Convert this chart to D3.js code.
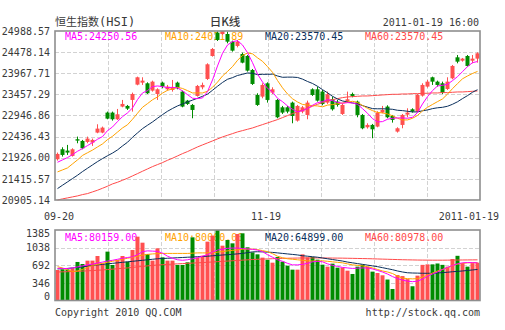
<!DOCTYPE html>
<html><head><meta charset="utf-8">
<script src="https://cdn.jsdelivr.net/npm/d3@7"></script>
<style>
body{margin:0;background:#fff}
svg{display:block}
text{font-family:"DejaVu Sans Mono","Liberation Mono",monospace;font-size:10px}
</style>
</head><body><svg id="c" width="505" height="330"></svg>
<script>
// ---------- data ----------
const dates = [
"2010-09-20","2010-09-21","2010-09-22","2010-09-24","2010-09-27","2010-09-28","2010-09-29","2010-09-30",
"2010-10-04","2010-10-05","2010-10-06","2010-10-07","2010-10-08","2010-10-11","2010-10-12","2010-10-13","2010-10-14","2010-10-15",
"2010-10-18","2010-10-19","2010-10-20","2010-10-21","2010-10-22","2010-10-25","2010-10-26","2010-10-27","2010-10-28","2010-10-29",
"2010-11-01","2010-11-02","2010-11-03","2010-11-04","2010-11-05","2010-11-08","2010-11-09","2010-11-10","2010-11-11","2010-11-12",
"2010-11-15","2010-11-16","2010-11-17","2010-11-18","2010-11-19","2010-11-22","2010-11-23","2010-11-24","2010-11-25","2010-11-26",
"2010-11-29","2010-11-30",
"2010-12-01","2010-12-02","2010-12-03","2010-12-06","2010-12-07","2010-12-08","2010-12-09","2010-12-10","2010-12-13","2010-12-14",
"2010-12-15","2010-12-16","2010-12-17","2010-12-20","2010-12-21","2010-12-22","2010-12-23","2010-12-24","2010-12-28","2010-12-29",
"2010-12-30","2010-12-31",
"2011-01-03","2011-01-04","2011-01-05","2011-01-06","2011-01-07","2011-01-10","2011-01-11","2011-01-12","2011-01-13","2011-01-14",
"2011-01-17","2011-01-18","2011-01-19"];

const openP = [21890,22131,22099,21970,22373,22332,22308,22292,22534,22534,
23017,23017,22856,23162,23178,23323,23693,23741,23725,23548,
23467,23741,23580,23564,23741,23524,23306,23202,23419,23628,
23830,24385,24949,24916,24916,24731,24627,24433,24385,24047,
23443,23403,23725,23500,23323,23145,23145,23258,22823,23041,
22960,23580,23580,23524,23258,23339,23282,22984,23282,23467,
23282,22960,22662,22719,22679,23017,23162,22936,22558,22719,
22968,23097,23041,23427,23645,23870,23765,23725,23588,23846,
24353,24272,24385,24272,24321];
const highP = [22051,22179,22236,22155,22437,22357,22437,22389,22735,22679,
23041,23041,23105,23323,23202,23500,23886,23870,23749,23789,
23604,23765,23685,23806,23765,23548,23323,23226,23685,23741,
24208,24578,24981,24988.57,24973,24755,24772,24466,24409,24071,
23484,23725,23749,23628,23347,23178,23178,23282,23202,23178,
23306,23604,23645,23564,23524,23403,23323,23242,23524,23500,
23306,22984,22759,22743,23049,23178,23194,22960,22662,22984,
23121,23121,23467,23725,23806,23886,23789,23765,23870,24168,
24409,24337,24409,24409,24474];
const lowP = [21857,21954,21994,21954,22276,22131,22276,22212,22518,22518,
22856,22823,22840,23145,23081,23041,23677,23685,23467,23524,
23323,23604,23548,23524,23580,23145,23202,22880,23403,23580,
23806,24369,24747,24892,24691,24490,24594,24208,24007,23685,
23178,23363,23258,23467,22880,22984,23001,22759,22799,23001,
22856,23419,23282,23194,23226,23065,23162,22960,23258,23387,
22904,22614,22630,22397,22662,23001,22880,22775,22534,22638,
22904,23017,23017,23403,23620,23685,23645,23467,23564,23822,
24208,24248,24128,24208,24224];
const closeP = [22018,21994,22051,22131,22340,22155,22389,22357,22630,22654,
22872,22856,22976,23226,23113,23467,23870,23789,23484,23765,
23580,23645,23645,23628,23604,23162,23226,23081,23661,23685,
24184,24554,24772,24985,24731,24514,24731,24224,24031,23709,
23202,23685,23323,23580,22904,23017,23041,22936,23178,23145,
23258,23443,23306,23226,23459,23097,23202,23202,23339,23419,
22960,22638,22719,22614,23017,23081,22904,22840,22638,22960,
23017,23041,23443,23685,23765,23765,23685,23500,23765,24144,
24248,24321,24144,24321,24450];

const ma5 = [21817,21874,21930,22002,22083,22147,22220,22292,22373,22437,
22582,22670,22799,22920,23009,23129,23331,23492,23548,23645,
23661,23645,23620,23628,23612,23540,23451,23363,23355,23371,
23524,23806,24144,24450,24651,24731,24755,24651,24466,24224,
23950,23757,23604,23516,23363,23282,23178,23097,23033,23065,
23113,23194,23258,23282,23331,23306,23266,23242,23258,23250,
23218,23113,23001,22872,22791,22799,22856,22880,22888,22888,
22880,22904,23017,23226,23403,23548,23661,23677,23701,23789,
23886,24007,24128,24224,24250.56];
const ma10 = [21584,21632,21680,21777,21874,21982,22047,22111,22187,22260,
22365,22445,22546,22646,22723,22856,23001,23145,23234,23327,
23395,23488,23556,23588,23628,23600,23548,23492,23492,23492,
23532,23628,23753,23902,24011,24128,24280,24397,24458,24437,
24341,24256,24128,23991,23793,23616,23467,23351,23274,23214,
23198,23186,23178,23157,23198,23210,23230,23250,23270,23290,
23262,23190,23121,23065,23021,23009,22984,22940,22880,22840,
22840,22880,22948,23057,23145,23214,23282,23347,23463,23596,
23717,23834,23902,23962,24011.89];
const ma20 = [21181,21262,21342,21423,21503,21592,21672,21753,21833,21906,
21974,22039,22115,22212,22300,22421,22526,22630,22711,22791,
22880,22968,23049,23117,23178,23226,23274,23319,23363,23411,
23463,23556,23653,23745,23822,23862,23914,23942,23975,23967,
23934,23942,23942,23946,23902,23870,23874,23874,23866,23826,
23769,23721,23653,23572,23496,23411,23347,23298,23274,23250,
23230,23186,23149,23113,23109,23109,23105,23097,23073,23065,
23049,23033,23033,23061,23081,23113,23133,23145,23170,23218,
23278,23355,23427,23508,23570.45];
const ma60 = [20905.14,20932,20956,20980,21004,21036,21060,21101,21141,21189,
21238,21294,21334,21382,21431,21487,21543,21600,21656,21712,
21761,21809,21865,21914,21970,22026,22075,22131,22187,22236,
22284,22332,22381,22429,22469,22509,22550,22582,22614,22646,
22687,22727,22767,22807,22848,22896,22944,22992,23041,23081,
23121,23170,23218,23258,23298,23331,23355,23379,23395,23403,
23411,23419,23419,23427,23435,23443,23451,23459,23459,23467,
23467,23475,23475,23484,23484,23492,23492,23500,23500,23508,
23516,23516,23524,23532,23540];

const volume = [599,612,612,632,757,717,783,783,874,730,
960,698,796,874,763,992,1254,1136,914,783,
1025,848,783,783,698,698,750,1241,842,881,
1156,1274,1385,1077,1189,1123,1307,1320,1045,946,
907,842,800,743,855,763,684,606,606,907,
848,855,802,704,665,724,645,645,586,521,
665,704,665,567,540,495,412,226,500,480,
420,280,488,700,710,710,727,700,665,815,
878,737,665,735,743];
const volMa5 = [633,630,628,640,660,680,700,715,735,755,
775,790,810,830,845,860,900,960,975,970,
965,930,870,830,800,790,800,820,840,870,
900,950,990,1010,1025,1030,1030,1020,1012,1005,
990,960,900,850,800,770,730,700,700,710,
730,760,770,760,720,690,670,650,640,630,
635,640,640,620,590,560,520,470,430,400,
380,370,380,420,480,520,560,610,650,690,
720,740,745,745,740];
const volMa10 = [664,640,600,570,580,610,650,690,710,730,
750,770,790,810,830,850,870,890,905,915,
920,925,925,925,925,925,925,930,935,935,
935,940,950,960,975,985,995,1005,1010,1010,
1000,980,960,920,870,840,820,810,800,790,
780,775,775,780,770,760,750,740,720,700,
690,680,665,640,610,580,560,530,480,440,
430,425,430,460,500,540,580,610,640,690,
715,730,740,745,745];
const volMa20 = [620,625,630,640,650,660,675,690,700,710,
720,730,740,750,760,770,780,790,800,810,
820,825,830,835,840,845,850,855,860,865,
870,878,886,894,900,908,916,925,940,955,
958,955,950,945,935,925,915,905,895,880,
870,860,850,835,820,805,790,775,755,740,
725,710,695,680,665,645,625,605,580,560,
545,540,538,535,535,535,540,548,555,565,
572,580,590,600,610];
const volMa60 = [560,563,566,570,574,578,583,588,594,600,
608,616,624,632,640,650,660,670,680,690,
697,703,709,715,720,725,730,735,740,745,
751,757,763,769,775,781,787,793,799,805,
809,813,817,821,825,828,830,832,834,835,
836,836,836,836,835,834,833,832,830,828,
826,824,822,819,816,813,810,807,804,801,
799,797,795,794,793,792,792,792,793,794,
795,796,797,798,799];

const priceTicks = [24988.57,24478.14,23967.71,23457.29,22946.86,22436.43,21926.00,21415.57,20905.14];
const volTicks = [1385,1038,692,346,0];
const xTickDates = ["2010-09-20","2010-11-19","2011-01-19"];
const xTickLabels = ["09-20","11-19","2011-01-19"];
const maNames = ["MA5","MA10","MA20","MA60"];
const priceMaText = ["24250.56","24011.89","23570.45","23570.45"];
const volMaText = ["80159.00","80060.00","64899.00","80978.00"];
const titleCn = "恒生指数", titleCode = "(HSI)", periodText = "日K线", timeText = "2011-01-19 16:00";
const copyText = "Copyright 2010 QQ.COM", urlText = "http://stock.qq.com";

// ---------- layout / style ----------
const L = 55, R = 480, T1 = 31, B1 = 200, T2 = 230, B2 = 300.5;
const maColors = ["#ff00ff", "#ffa200", "#0a2f5c", "#ff4a4a"];
const UP = "#ff5050", DOWN = "#008c00";
const GRID = "#d2d2d2", BORDER = "#8e8e8e", TXT = "#3a3a3a";

const svg = d3.select("#c");
const idx = d3.range(dates.length);
const x = d3.scaleBand().domain(idx).range([L, R]).padding(0);
const bw = x.bandwidth();
const y = d3.scaleLinear().domain([d3.min(priceTicks), d3.max(priceTicks)]).range([B1, T1]);
const yv = d3.scaleLinear().domain([0, d3.max(volTicks)]).range([B2, T2]);

// grids
function grid(top, bottom, hVals, ys) {
  const g = svg.append("g").attr("stroke", GRID).attr("stroke-dasharray", "4,2").attr("stroke-width", 1);
  for (let k = 1; k < 8; k++) {
    const gx = Math.round(L + k * (R - L) / 8) + 0.5;
    g.append("line").attr("x1", gx).attr("x2", gx).attr("y1", top).attr("y2", bottom);
  }
  hVals.forEach(v => {
    const gy = Math.round(ys(v)) + 0.5;
    g.append("line").attr("x1", L).attr("x2", R).attr("y1", gy).attr("y2", gy);
  });
}
grid(T1, B1, priceTicks.slice(1, -1), y);
grid(T2, B2, volTicks.slice(1, -1), yv);

// axes
const ax1 = svg.append("g").attr("transform", `translate(${L},0)`)
  .call(d3.axisLeft(y).tickValues(priceTicks).tickFormat(d => d.toFixed(2)).tickSize(0).tickPadding(5));
const ax2 = svg.append("g").attr("transform", `translate(${L},0)`)
  .call(d3.axisLeft(yv).tickValues(volTicks).tickFormat(d3.format("d")).tickSize(0).tickPadding(5));
[ax1, ax2].forEach(a => {
  a.select(".domain").remove();
  a.selectAll("text").attr("fill", TXT).style("font-family", '"DejaVu Sans Mono",monospace').style("font-size", "10px");
});
ax2.selectAll("text").filter(d => d === d3.max(volTicks)).attr("dy", "0.62em");
ax2.selectAll("text").filter(d => d === 0).attr("dy", "-0.08em");

// x labels
xTickDates.forEach((dt, k) => {
  const i = dates.indexOf(dt);
  const w = xTickLabels[k].length * 6.02;
  let cx = x(i) + 1;
  cx = Math.max(cx, 44 + w / 2);
  cx = Math.min(cx, 499 - w / 2);
  svg.append("text").attr("x", cx).attr("y", 220).attr("text-anchor", "middle").attr("fill", TXT).text(xTickLabels[k]);
});

// titles
const tt = svg.append("text").attr("x", 55).attr("y", 25.5).attr("fill", TXT);
tt.append("tspan").style("font-family", '"Noto Sans CJK SC",sans-serif').style("font-size", "11px").text(titleCn);
tt.append("tspan").style("font-size", "12px").text(titleCode);
svg.append("text").attr("x", 225).attr("y", 25.5).attr("text-anchor", "middle").attr("fill", TXT)
  .style("font-family", '"Noto Sans CJK SC",sans-serif').style("font-size", "11.5px").style("font-weight", "500").text(periodText);
svg.append("text").attr("x", 479).attr("y", 26).attr("text-anchor", "end").attr("fill", TXT).style("font-size", "10px").text(timeText);

// legends
maNames.forEach((n, k) => {
  svg.append("text").attr("x", 65 + 100 * k).attr("y", 40).attr("fill", maColors[k]).text(n + ":" + priceMaText[k]);
  svg.append("text").attr("x", 65 + 100 * k).attr("y", 240.5).attr("fill", maColors[k]).text(n + ":" + volMaText[k]);
});

// candles
const cg = svg.append("g");
idx.forEach(i => {
  const up = closeP[i] >= openP[i];
  const col = up ? UP : DOWN;
  const cx = x(i) + 2.5;
  cg.append("line").attr("x1", cx).attr("x2", cx).attr("y1", y(highP[i])).attr("y2", y(lowP[i]))
    .attr("stroke", col).attr("stroke-width", 1);
  const yt = y(Math.max(openP[i], closeP[i])), yb = y(Math.min(openP[i], closeP[i]));
  cg.append("rect").attr("x", x(i) + 0.5).attr("width", bw - 1).attr("y", yt).attr("height", Math.max(1, yb - yt))
    .attr("fill", col);
});

// volume bars
svg.append("g").selectAll("rect").data(idx).join("rect")
  .attr("x", i => x(i) + 0.5).attr("width", bw - 1)
  .attr("y", i => yv(volume[i])).attr("height", i => yv(0) - yv(volume[i]))
  .attr("fill", i => closeP[i] >= openP[i] ? UP : DOWN);

// MA lines
const lineP = d3.line().x((d, i) => x(i) + 2.5).y(d => y(d));
const lineV = d3.line().x((d, i) => x(i) + 2.5).y(d => yv(d));
[ma60, ma20, ma10, ma5].forEach((arr, k) => {
  svg.append("path").attr("d", lineP(arr)).attr("fill", "none").attr("stroke", maColors[3 - k]).attr("stroke-width", 1);
});
[volMa60, volMa20, volMa10, volMa5].forEach((arr, k) => {
  svg.append("path").attr("d", lineV(arr)).attr("fill", "none").attr("stroke", maColors[3 - k]).attr("stroke-width", 1);
});

// borders
svg.append("rect").attr("x", L).attr("y", T1).attr("width", R - L).attr("height", B1 - T1)
  .attr("fill", "none").attr("stroke", BORDER).attr("stroke-width", 1.6);
svg.append("rect").attr("x", L).attr("y", T2).attr("width", R - L).attr("height", B2 - T2)
  .attr("fill", "none").attr("stroke", BORDER).attr("stroke-width", 1.6);

// footer
svg.append("text").attr("x", 55).attr("y", 315.5).attr("fill", TXT).text(copyText);
svg.append("text").attr("x", 480).attr("y", 315.5).attr("text-anchor", "end").attr("fill", TXT).text(urlText);
</script>
</body></html>
